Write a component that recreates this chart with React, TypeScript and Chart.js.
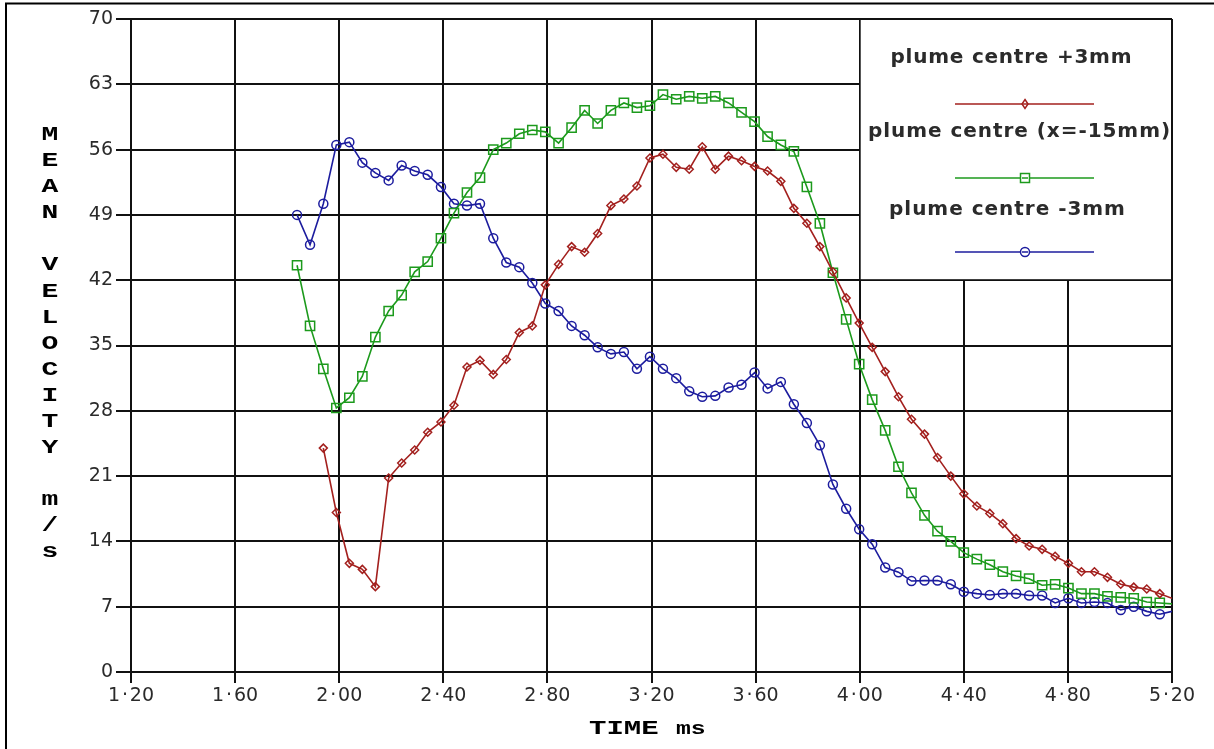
import { useEffect, useRef } from 'react';
import { Chart, registerables } from 'chart.js';

Chart.register(...registerables);

// Sample times (ms); the last entry is where the traces run off the right edge.
const timeMs = [
  1.838, 1.888, 1.939, 1.989, 2.039, 2.089, 2.139, 2.19, 2.24, 2.29,
  2.34, 2.391, 2.441, 2.491, 2.541, 2.592, 2.642, 2.692, 2.742, 2.792,
  2.843, 2.893, 2.943, 2.993, 3.044, 3.094, 3.144, 3.194, 3.244, 3.295,
  3.345, 3.395, 3.445, 3.496, 3.546, 3.596, 3.646, 3.697, 3.747, 3.797,
  3.847, 3.897, 3.948, 3.998, 4.048, 4.098, 4.149, 4.199, 4.249, 4.299,
  4.35, 4.4, 4.45, 4.5, 4.55, 4.601, 4.651, 4.701, 4.751, 4.802,
  4.852, 4.902, 4.952, 5.003, 5.053, 5.103, 5.153, 5.2,
];

// Mean velocity, m/s
const plusThree = [
  null, null, 24.0, 17.1, 11.65, 11.0, 9.15, 20.8, 22.4, 23.8,
  25.7, 26.8, 28.6, 32.7, 33.4, 31.9, 33.5, 36.4, 37.1, 41.5,
  43.7, 45.6, 45.0, 47.0, 50.0, 50.7, 52.1, 55.1, 55.5, 54.1,
  53.9, 56.3, 53.9, 55.3, 54.8, 54.2, 53.7, 52.6, 49.7, 48.1,
  45.6, 42.9, 40.1, 37.4, 34.8, 32.2, 29.5, 27.1, 25.5, 23.0,
  21.0, 19.1, 17.8, 17.0, 15.9, 14.3, 13.5, 13.15, 12.4, 11.65,
  10.75, 10.75, 10.15, 9.4, 9.1, 8.9, 8.4, 7.9,
];

const centreLine = [
  43.6, 37.1, 32.5, 28.3, 29.4, 31.7, 35.9, 38.7, 40.4, 42.9,
  44.0, 46.5, 49.2, 51.4, 53.0, 56.0, 56.7, 57.7, 58.1, 57.9,
  56.7, 58.35, 60.2, 58.8, 60.2, 61.0, 60.5, 60.7, 61.9, 61.4,
  61.7, 61.5, 61.7, 61.0, 60.0, 59.0, 57.4, 56.5, 55.8, 52.0,
  48.1, 42.8, 37.8, 33.0, 29.2, 25.9, 22.0, 19.2, 16.8, 15.1,
  14.0, 12.8, 12.1, 11.5, 10.75, 10.3, 10.0, 9.3, 9.4, 9.0,
  8.4, 8.4, 8.1, 8.0, 7.9, 7.5, 7.4, 7.3,
];

const minusThree = [
  49.0, 45.8, 50.2, 56.5, 56.8, 54.6, 53.5, 52.7, 54.3, 53.7,
  53.3, 52.0, 50.2, 50.0, 50.2, 46.5, 43.9, 43.4, 41.7, 39.5,
  38.7, 37.1, 36.1, 34.8, 34.1, 34.3, 32.5, 33.8, 32.5, 31.5,
  30.1, 29.5, 29.6, 30.5, 30.8, 32.1, 30.4, 31.1, 28.7, 26.7,
  24.3, 20.1, 17.5, 15.3, 13.7, 11.2, 10.7, 9.75, 9.8, 9.8,
  9.4, 8.6, 8.4, 8.25, 8.4, 8.4, 8.2, 8.2, 7.4, 7.9,
  7.4, 7.5, 7.4, 6.65, 7.0, 6.5, 6.2, 6.5,
];

const seriesLabels = ['plume centre +3mm', 'plume centre (x=-15mm)', 'plume centre -3mm'];
const xTickValues = [1.2, 1.6, 2.0, 2.4, 2.8, 3.2, 3.6, 4.0, 4.4, 4.8, 5.2];
const yTickValues = [0, 7, 14, 21, 28, 35, 42, 49, 56, 63, 70];
const xTitle = 'TIME';
const xUnit = 'ms';
const yTitle = 'MEAN VELOCITY m/s';

const RED = '#a3201e';
const GREEN = '#1c9a1c';
const BLUE = '#1c1c9e';
const INK = '#111111';
const LABEL = '#2a2a2a';

const W = 1214;
const H = 749;

type Marker = 'diamond' | 'square' | 'circle';

function drawMarker(ctx: CanvasRenderingContext2D, kind: Marker, x: number, y: number, color: string) {
  ctx.save();
  ctx.strokeStyle = color;
  ctx.fillStyle = '#fff';
  ctx.lineWidth = 1.5;
  ctx.beginPath();
  if (kind === 'diamond') {
    ctx.moveTo(x, y - 4.5);
    ctx.lineTo(x + 3, y);
    ctx.lineTo(x, y + 4.5);
    ctx.lineTo(x - 3, y);
    ctx.closePath();
  } else if (kind === 'square') {
    ctx.rect(x - 4.5, y - 4.5, 9, 9);
  } else {
    ctx.arc(x, y, 4.5, 0, Math.PI * 2);
  }
  ctx.fill();
  ctx.stroke();
  ctx.beginPath();
  ctx.moveTo(x - 3, y);
  ctx.lineTo(x + 3, y);
  ctx.stroke();
  ctx.restore();
}

// White key panel in the upper-right cell block, bounded by grid lines.
const keyPanel = {
  id: 'keyPanel',
  afterDatasetsDraw(chart: any) {
    const { ctx, chartArea, scales } = chart;
    const left = scales.x.getPixelForValue(4.0);
    const bottom = scales.y.getPixelForValue(42);
    ctx.save();
    ctx.fillStyle = '#ffffff';
    ctx.fillRect(left + 1, chartArea.top + 1, chartArea.right - left - 2, bottom - chartArea.top - 2);

    const rows: { text: string; cx: number; base: number; lineY: number; color: string; kind: Marker; width: number }[] = [
      { text: seriesLabels[0], cx: 1011, base: 63, lineY: 104, color: RED, kind: 'diamond', width: 241 },
      { text: seriesLabels[1], cx: 1019, base: 137, lineY: 178, color: GREEN, kind: 'square', width: 302 },
      { text: seriesLabels[2], cx: 1007, base: 215, lineY: 252, color: BLUE, kind: 'circle', width: 236 },
    ];
    ctx.font = 'bold 20px "DejaVu Sans"';
    ctx.fillStyle = '#2b2b2b';
    ctx.textBaseline = 'alphabetic';
    ctx.textAlign = 'left';
    for (const r of rows) {
      (ctx as any).letterSpacing = '0px';
      const w0 = ctx.measureText(r.text).width;
      const sp = Math.max(0, (r.width - w0) / (r.text.length - 1));
      (ctx as any).letterSpacing = sp.toFixed(2) + 'px';
      ctx.fillText(r.text, r.cx - r.width / 2, r.base);
      (ctx as any).letterSpacing = '0px';

      ctx.strokeStyle = r.color;
      ctx.lineWidth = 1.6;
      ctx.beginPath();
      ctx.moveTo(955, r.lineY);
      ctx.lineTo(1094, r.lineY);
      ctx.stroke();
      drawMarker(ctx, r.kind, 1025, r.lineY, r.color);
    }
    ctx.restore();
  },
};

// Page frame, stacked vertical axis title and the time axis title.
const decorations = {
  id: 'decorations',
  beforeDraw(chart: any) {
    const { ctx } = chart;
    ctx.save();
    ctx.fillStyle = '#ffffff';
    ctx.fillRect(0, 0, W, H);
    ctx.restore();
  },
  afterDraw(chart: any) {
    const { ctx } = chart;
    ctx.save();
    ctx.strokeStyle = '#000';
    ctx.lineWidth = 2;
    ctx.beginPath();
    ctx.moveTo(6, H);
    ctx.lineTo(6, 3.5);
    ctx.lineTo(W, 3.5);
    ctx.stroke();

    ctx.fillStyle = '#000';
    ctx.font = 'bold 20px "Liberation Mono"';
    ctx.textAlign = 'center';
    ctx.textBaseline = 'middle';
    const chars = yTitle.split('');
    chars.forEach((c, i) => {
      if (c === ' ') return;
      const y = 135 + i * 26.08;
      ctx.save();
      ctx.translate(50, y);
      ctx.scale(1.4, 1);
      ctx.fillText(c, 0, 0);
      ctx.restore();
    });

    ctx.textAlign = 'left';
    ctx.textBaseline = 'alphabetic';
    ctx.save();
    ctx.translate(589, 734);
    ctx.scale(1.45, 1);
    ctx.font = 'bold 20px "Liberation Mono"';
    ctx.fillText(xTitle, 0, 0);
    ctx.restore();
    ctx.save();
    ctx.translate(676, 734);
    ctx.scale(1.3, 1);
    ctx.font = 'bold 19px "Liberation Mono"';
    ctx.fillText(xUnit, 0, 0);
    ctx.restore();
    ctx.restore();
  },
};

function series(label: string, values: (number | null)[], color: string, style: string, radius: number) {
  const last = timeMs.length - 1;
  return {
    label,
    data: timeMs.map((t, i) => ({ x: t, y: values[i] })),
    borderColor: color,
    backgroundColor: 'rgba(255,255,255,0)',
    borderWidth: 1.6,
    pointStyle: style,
    pointRadius: (c: any) => (c.dataIndex === last ? 0 : radius),
    pointBorderColor: color,
    pointBackgroundColor: 'rgba(255,255,255,0)',
    pointBorderWidth: 1.5,
    tension: 0,
    spanGaps: false,
  };
}

export default function App() {
  const ref = useRef<HTMLCanvasElement | null>(null);

  useEffect(() => {
    if (!ref.current) return;
    const chart = new Chart(ref.current, {
      type: 'line',
      data: {
        datasets: [
          series(seriesLabels[0], plusThree, RED, 'rectRot', 4),
          series(seriesLabels[1], centreLine, GREEN, 'rect', 6.5),
          series(seriesLabels[2], minusThree, BLUE, 'circle', 4.5),
        ] as any,
      },
      options: {
        responsive: false,
        maintainAspectRatio: false,
        devicePixelRatio: 1,
        animation: false,
        events: [],
        layout: { padding: { top: 19, right: 42, left: 0, bottom: 0 } },
        plugins: {
          legend: { display: false },
          tooltip: { enabled: false },
          title: { display: false },
        },
        scales: {
          x: {
            type: 'linear',
            min: 1.2,
            max: 5.2,
            afterBuildTicks: (axis: any) => {
              axis.ticks = xTickValues.map((v) => ({ value: v }));
            },
            afterFit: (s: any) => {
              s.height = 77;
            },
            grid: { color: INK, lineWidth: 2, tickLength: 11, tickColor: INK, tickWidth: 2 },
            border: { display: true, color: INK, width: 2 },
            ticks: {
              autoSkip: false,
              maxRotation: 0,
              padding: 2,
              color: LABEL,
              font: { family: '"DejaVu Sans"', size: 19 },
              callback: (v: any) => {
                const [a, b] = Number(v).toFixed(2).split('.');
                return a + '\u200a·\u200a' + b;
              },
            },
          },
          y: {
            type: 'linear',
            min: 0,
            max: 70,
            afterBuildTicks: (axis: any) => {
              axis.ticks = yTickValues.map((v) => ({ value: v }));
            },
            afterFit: (s: any) => {
              s.width = 131;
            },
            grid: { color: INK, lineWidth: 2, tickLength: 15, tickColor: INK, tickWidth: 2 },
            border: { display: true, color: INK, width: 2 },
            ticks: {
              autoSkip: false,
              padding: 3,
              color: LABEL,
              font: { family: '"DejaVu Sans"', size: 19 },
            },
          },
        },
      } as any,
      plugins: [decorations, keyPanel],
    });
    return () => chart.destroy();
  }, []);

  return (
    <div style={{ position: 'absolute', left: 0, top: 0, width: W, height: H, background: '#fff' }}>
      <canvas ref={ref} width={W} height={H} style={{ display: 'block', width: W, height: H }} />
    </div>
  );
}
